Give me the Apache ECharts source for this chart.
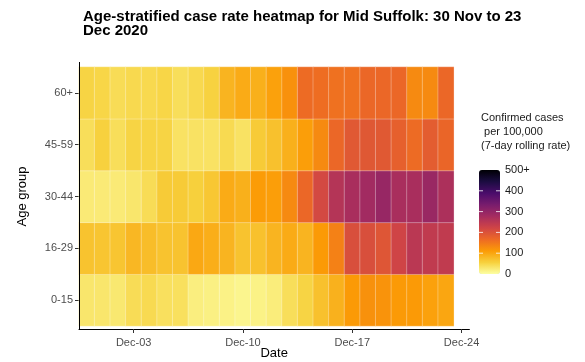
<!DOCTYPE html>
<html>
<head>
<meta charset="utf-8">
<script src="https://cdn.jsdelivr.net/npm/echarts@6/dist/echarts.min.js"></script>
<style>html,body{margin:0;padding:0;background:#fff}#c{width:585px;height:362px}</style>
</head>
<body>
<div id="c"></div>
<script>
// Dates of the tiles (30 Nov .. 23 Dec 2020)
const dates = ['Nov-30','Dec-01','Dec-02','Dec-03','Dec-04','Dec-05','Dec-06','Dec-07','Dec-08','Dec-09','Dec-10','Dec-11',
  'Dec-12','Dec-13','Dec-14','Dec-15','Dec-16','Dec-17','Dec-18','Dec-19','Dec-20','Dec-21','Dec-22','Dec-23'];
const axisEnd = 'Dec-24';
const tickLabels = ['Dec-03','Dec-10','Dec-17','Dec-24'];
const ageGroups = ['0-15','16-29','30-44','45-59','60+'];
// Rates per 100,000 (7-day rolling), one array per age group
const r0_15  = [30,30,28,42,45,38,38,20,18,16,12,16,22,40,52,72,88,112,122,120,112,112,105,100];
const r16_29 = [70,68,68,82,76,70,70,98,92,85,70,72,85,95,85,112,140,205,205,195,222,250,242,242];
const r30_44 = [25,25,25,30,42,62,62,57,66,95,90,110,108,130,170,215,258,272,282,295,272,272,292,268];
const r45_59 = [40,55,40,52,52,52,35,35,35,45,35,62,72,90,108,130,170,190,192,190,180,165,185,172];
const r60    = [52,50,42,46,46,50,40,46,54,85,95,90,105,122,165,162,158,158,170,170,170,130,130,170];
const legendTicks = [0,100,200,300,400,500];
const legendLabels = ['0','100','200','300','400','500+'];

const rows = [r0_15, r16_29, r30_44, r45_59, r60];
const data = [];
rows.forEach((arr, yi) => arr.forEach((v, xi) => data.push([xi, yi, v])));
const categories = dates.concat([axisEnd]);

const inferno = ['#FCFFA4','#F7D13D','#FB9B06','#ED6925','#CF4446','#A52C60','#781C6D','#4A0C6B','#1B0C41','#000004'];
const font = 'Liberation Sans, Arial, sans-serif';

const barTop = 170, barH = 104, barLeft = 479, barW = 21;
const graphics = [
  {type:'line', shape:{x1:79.5,y1:62,x2:79.5,y2:329.5}, style:{stroke:'#000',lineWidth:1}, z:10},
  {type:'text', left:481, top:111, style:{text:'Confirmed cases\n per 100,000\n(7-day rolling rate)', font:'11px '+font, fill:'#1a1a1a', lineHeight:14}}
];
legendTicks.forEach((t, i) => {
  const y = barTop + barH - t / 500 * barH;
  graphics.push({type:'text', x:barLeft+barW+5, y:y, style:{text:legendLabels[i], font:'11px '+font, fill:'#1a1a1a', verticalAlign:'middle'}});
  if (i > 0 && i < legendTicks.length - 1) {
    graphics.push({type:'line', shape:{x1:barLeft,y1:y,x2:barLeft+4,y2:y}, style:{stroke:'rgba(255,255,255,0.8)',lineWidth:1}, z:100});
    graphics.push({type:'line', shape:{x1:barLeft+barW-4,y1:y,x2:barLeft+barW,y2:y}, style:{stroke:'rgba(255,255,255,0.8)',lineWidth:1}, z:100});
  }
});

const chart = echarts.init(document.getElementById('c'), null, {renderer:'canvas'});
chart.setOption({
  animation:false,
  backgroundColor:'#fff',
  title:{
    text:'Age-stratified case rate heatmap for Mid Suffolk: 30 Nov to 23\nDec 2020',
    left:78, top:5,
    textStyle:{fontFamily:font, fontSize:15, fontWeight:'bold', color:'#000', lineHeight:14}
  },
  grid:{left:79, right:115.6, top:67, bottom:36, containLabel:false, outerBoundsMode:'none'},
  xAxis:{
    type:'category', data:categories, offset:3,
    name:'Date', nameLocation:'middle', nameGap:18, nameMoveOverlap:false,
    nameTextStyle:{fontFamily:font, fontSize:13, color:'#000'},
    axisLine:{show:true, onZero:false, lineStyle:{color:'#000', width:1}},
    axisTick:{show:true, alignWithLabel:true, length:4, lineStyle:{color:'#333', width:1}, interval:(i, v) => tickLabels.includes(v)},
    axisLabel:{show:true, interval:(i, v) => tickLabels.includes(v), fontFamily:font, fontSize:11, color:'#4D4D4D', margin:8},
    splitLine:{show:false}
  },
  yAxis:{
    type:'category', data:ageGroups,
    name:'Age group', nameLocation:'middle', nameGap:50, nameMoveOverlap:false,
    nameTextStyle:{fontFamily:font, fontSize:13, color:'#000'},
    axisLine:{show:false},
    axisTick:{show:true, alignWithLabel:true, length:4, lineStyle:{color:'#333', width:1}},
    axisLabel:{fontFamily:font, fontSize:11, color:'#4D4D4D', margin:6},
    splitLine:{show:false}
  },
  visualMap:{
    type:'continuous', min:0, max:500, calculable:false, realtime:false,
    orient:'vertical', left:barLeft, top:barTop, itemWidth:barW, itemHeight:barH,
    padding:0, text:null, showLabel:false, hoverLink:false,
    inRange:{color:inferno}
  },
  graphic:graphics,
  series:[{
    type:'heatmap', data:data,
    itemStyle:{borderColor:'rgba(255,255,255,0.3)', borderWidth:1},
    emphasis:{disabled:true}
  }]
});
</script>
</body>
</html>
